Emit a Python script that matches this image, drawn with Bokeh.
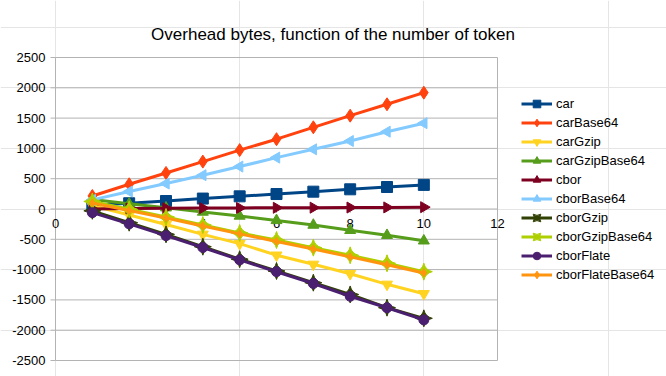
import math
from bokeh.plotting import figure
from bokeh.models import Range1d, Legend, LegendItem, Label
from bokeh.core.properties import value
from bokeh.embed import file_html
from bokeh.resources import INLINE

tokens = [1, 2, 3, 4, 5, 6, 7, 8, 9, 10]
car = [60, 95, 132, 172, 209, 247, 286, 325, 363, 398]
carBase64 = [215, 408, 595, 782, 972, 1152, 1348, 1540, 1728, 1920]
carGzip = [55, -100, -255, -418, -572, -762, -913, -1068, -1243, -1398]
carGzipBase64 = [155, 85, 20, -50, -116, -188, -265, -352, -434, -525]
cbor = [0, 8, 12, 15, 18, 20, 22, 24, 26, 30]
cborBase64 = [150, 288, 420, 558, 700, 848, 985, 1122, 1276, 1416]
cborGzip = [-30, -226, -418, -622, -828, -1023, -1216, -1410, -1628, -1804]
cborGzipBase64 = [125, -5, -132, -264, -396, -512, -638, -764, -896, -1034]
cborFlate = [-60, -245, -440, -635, -840, -1035, -1230, -1440, -1630, -1830]
cborFlateBase64 = [100, -25, -150, -280, -410, -535, -660, -790, -920, -1055]

x_ticks = [0, 2, 4, 6, 8, 10, 12]
x_tick_labels = ["0", "2", "4", "6", "8", "10", "12"]
y_ticks = [-2500, -2000, -1500, -1000, -500, 0, 500, 1000, 1500, 2000, 2500]
y_tick_labels = ["-2500", "-2000", "-1500", "-1000", "-500", "0",
                 "500", "1000", "1500", "2000", "2500"]
title_text = "Overhead bytes, function of the number of token"

series = [
    ("car", car, "#004586", "square", 11, 0.0),
    ("carBase64", carBase64, "#ff420e", "diamond", 13, 0.0),
    ("carGzip", carGzip, "#ffd320", "inverted_triangle", 11, 0.0),
    ("carGzipBase64", carGzipBase64, "#579d1c", "triangle", 11, 0.0),
    ("cbor", cbor, "#7e0021", "triangle", 11, -math.pi / 2),
    ("cborBase64", cborBase64, "#83caff", "triangle", 11, math.pi / 2),
    ("cborGzip", cborGzip, "#314004", "square_pin", 12, math.pi / 4),
    ("cborGzipBase64", cborGzipBase64, "#aecf00", "square_pin", 12, math.pi / 4),
    ("cborFlate", cborFlate, "#4b1f6f", "circle", 10, 0.0),
    ("cborFlateBase64", cborFlateBase64, "#ff950e", "diamond", 8, 0.0),
]

FONT = "Liberation Sans"
GRID = "#b3b3b3"

# page geometry (pixels) of the plot area
W, H = 666, 376
AREA_L, AREA_R, AREA_T, AREA_B = 55, 497, 57, 360
X0, X1 = x_ticks[0], x_ticks[-1]
Y0, Y1 = y_ticks[0], y_ticks[-1]
xs = (X1 - X0) / (AREA_R - AREA_L)
ys = (Y1 - Y0) / (AREA_B - AREA_T)
x_range = Range1d(X0 - AREA_L * xs, X1 + (W - AREA_R) * xs)
y_range = Range1d(Y0 - (H - AREA_B) * ys, Y1 + AREA_T * ys)

p = figure(width=W, height=H, output_backend="svg", toolbar_location=None,
           x_range=x_range, y_range=y_range,
           x_axis_location=None, y_axis_location=None,
           min_border=0, outline_line_color=None)
p.background_fill_color = "white"
p.border_fill_color = "white"

n_y = len(y_ticks)
# horizontal gridlines over the plot area
p.segment(x0=[X0] * n_y, y0=y_ticks, x1=[X1] * n_y, y1=y_ticks,
          line_color=GRID, line_width=1)
# y axis line and right border
p.segment(x0=[X0, X1], y0=[Y0, Y0], x1=[X0, X1], y1=[Y1, Y1],
          line_color=GRID, line_width=1)

# y axis ticks and labels
p.ray(x=[X0] * n_y, y=y_ticks, length=5, angle=math.pi,
      length_units="screen", line_color=GRID, line_width=1)
p.text(x=[X0] * n_y, y=y_ticks, text=y_tick_labels, text_font=value(FONT),
       text_font_size="13px", text_align="right", text_baseline="middle",
       x_offset=-10, text_color="#000000")

# x axis drawn at y = 0
zeros = [0] * len(x_ticks)
p.ray(x=x_ticks, y=zeros, length=4, angle=-math.pi / 2, length_units="screen",
      line_color=GRID, line_width=1)
p.text(x=x_ticks, y=zeros, text=x_tick_labels, text_font=value(FONT),
       text_font_size="13px", text_align="center", text_baseline="top",
       y_offset=10, text_color="#000000")

items = []
for name, vals, color, marker, size, ang in series:
    lr = p.line(tokens, vals, line_color=color, line_width=3)
    sr = p.scatter(tokens, vals, marker=marker, size=size, angle=ang,
                   fill_color=color, line_color=color)
    items.append(LegendItem(label=name, renderers=[lr, sr]))

lg = Legend(items=items, location=(521, 92))
lg.margin = 0
lg.padding = 0
lg.spacing = 0
lg.border_line_alpha = 0
lg.background_fill_alpha = 0
lg.label_text_font = FONT
lg.label_text_font_size = "13px"
lg.label_text_color = "#000000"
lg.label_height = 19
lg.glyph_height = 19
lg.glyph_width = 31
lg.label_standoff = 4
p.add_layout(lg)

p.add_layout(Label(x=332.5, y=H - 34, x_units="screen", y_units="screen",
                   text=title_text, text_font=FONT, text_font_size="17px",
                   text_align="center", text_baseline="alphabetic",
                   text_color="#000000"))

open("out.html", "w").write(file_html(p, INLINE))
